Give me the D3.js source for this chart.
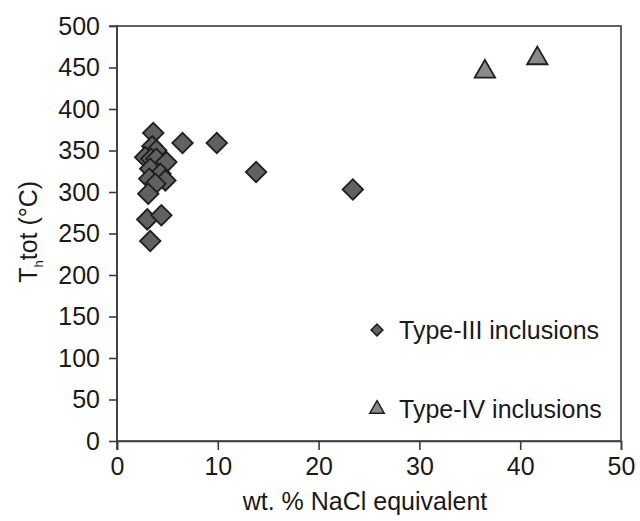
<!DOCTYPE html>
<html>
<head>
<meta charset="utf-8">
<script src="https://cdn.jsdelivr.net/npm/d3@7"></script>
<style>
  body { margin: 0; background: #fff; }
  svg text { font-family: "Liberation Sans", Arial, sans-serif; fill: #1a1a1a; }
</style>
</head>
<body>
<div id="chart"></div>
<script>
// Type-III inclusions (diamonds): salinity (wt.% NaCl eq.) and Th tot (°C)
const typeIIIx = [3.6, 3.5, 3.9, 2.8, 3.4, 3.9, 4.9, 3.3, 4.3, 3.2, 4.8, 3.8, 3.1, 3.0, 4.4, 3.3, 6.5, 9.9, 13.8, 23.4];
const typeIIIy = [371, 355, 350, 342, 340, 340, 336, 328, 322, 316, 314, 310, 298, 267, 272, 241, 359, 359, 324, 303];
// Type-IV inclusions (triangles)
const typeIVx = [36.5, 41.7];
const typeIVy = [445, 461];

const xTicks = [0, 10, 20, 30, 40, 50];
const yTicks = [0, 50, 100, 150, 200, 250, 300, 350, 400, 450, 500];
const legendLabels = ["Type-III inclusions", "Type-IV inclusions"];

const W = 640, H = 521;
const margin = { top: 26, right: 19, bottom: 80, left: 117 };
const width = W - margin.left - margin.right;
const height = H - margin.top - margin.bottom;
const fs = "25px";

const svg = d3.select("#chart").append("svg")
  .attr("width", W).attr("height", H);
const g = svg.append("g")
  .attr("transform", `translate(${margin.left},${margin.top})`);

const x = d3.scaleLinear().domain([0, 50]).range([0, width]);
const y = d3.scaleLinear().domain([0, 500]).range([height, 0]);

const axisColor = "#3c3c3c";

// frame
g.append("rect")
  .attr("width", width).attr("height", height)
  .attr("fill", "none").attr("stroke", axisColor).attr("stroke-width", 1.6);

// axes
const xAxis = g.append("g")
  .attr("transform", `translate(0,${height})`)
  .call(d3.axisBottom(x).tickValues(xTicks).tickSize(9).tickPadding(7));
const yAxis = g.append("g")
  .call(d3.axisLeft(y).tickValues(yTicks).tickSize(8).tickPadding(9));

[xAxis, yAxis].forEach(a => {
  a.select(".domain").attr("stroke", axisColor).attr("stroke-width", 1.6);
  a.selectAll(".tick line").attr("stroke", axisColor).attr("stroke-width", 1.6);
  a.selectAll(".tick text")
    .style("font-size", fs)
    .style("font-family", '"Liberation Sans", Arial, sans-serif')
    .attr("fill", "#1a1a1a");
});
// the y axis line also reaches below the x axis at 0
yAxis.select(".domain").attr("d", `M-8,0H0V${height + 9}`);

// axis titles
svg.append("text")
  .attr("x", margin.left + width / 2 - 4).attr("y", 510)
  .attr("text-anchor", "middle")
  .style("font-size", fs)
  .text("wt. % NaCl equivalent");

const yt = svg.append("text")
  .attr("transform", `translate(37,${margin.top + y(252)}) rotate(-90)`)
  .attr("text-anchor", "middle")
  .style("font-size", fs);
yt.append("tspan").text("T");
yt.append("tspan").attr("dy", 6).style("font-size", "13px").text("h");
yt.append("tspan").attr("dy", -6).text("tot (°C)");

// markers
const pts3 = typeIIIx.map((v, i) => ({ x: v, y: typeIIIy[i] }));
const pts4 = typeIVx.map((v, i) => ({ x: v, y: typeIVy[i] }));

g.selectAll(".d3pt").data(pts3).join("path")
  .attr("class", "d3pt")
  .attr("d", d3.symbol().type(d3.symbolSquare).size(210))
  .attr("transform", d => `translate(${x(d.x)},${y(d.y)}) rotate(45)`)
  .attr("fill", "#616161").attr("stroke", "#1e1e1e").attr("stroke-width", 1.8);

g.selectAll(".d4pt").data(pts4).join("path")
  .attr("class", "d4pt")
  .attr("d", d3.symbol().type(d3.symbolTriangle).size(180))
  .attr("transform", d => `translate(${x(d.x)},${y(d.y)})`)
  .attr("fill", "#8a8a8a").attr("stroke", "#1e1e1e").attr("stroke-width", 1.8);

// legend
const legend = g.append("g");
const legRows = [
  { label: legendLabels[0], y: 330 - margin.top, shape: "d" },
  { label: legendLabels[1], y: 409 - margin.top, shape: "t" }
];
legRows.forEach(r => {
  if (r.shape === "d") {
    legend.append("path")
      .attr("d", d3.symbol().type(d3.symbolSquare).size(70))
      .attr("transform", `translate(${377 - margin.left},${r.y}) rotate(45)`)
      .attr("fill", "#616161").attr("stroke", "#1e1e1e").attr("stroke-width", 1.5);
  } else {
    legend.append("path")
      .attr("d", d3.symbol().type(d3.symbolTriangle).size(90))
      .attr("transform", `translate(${377 - margin.left},${r.y})`)
      .attr("fill", "#8a8a8a").attr("stroke", "#1e1e1e").attr("stroke-width", 1.5);
  }
  legend.append("text")
    .attr("x", 399 - margin.left).attr("y", r.y)
    .attr("dy", "0.35em")
    .style("font-size", fs)
    .text(r.label);
});
</script>
</body>
</html>
